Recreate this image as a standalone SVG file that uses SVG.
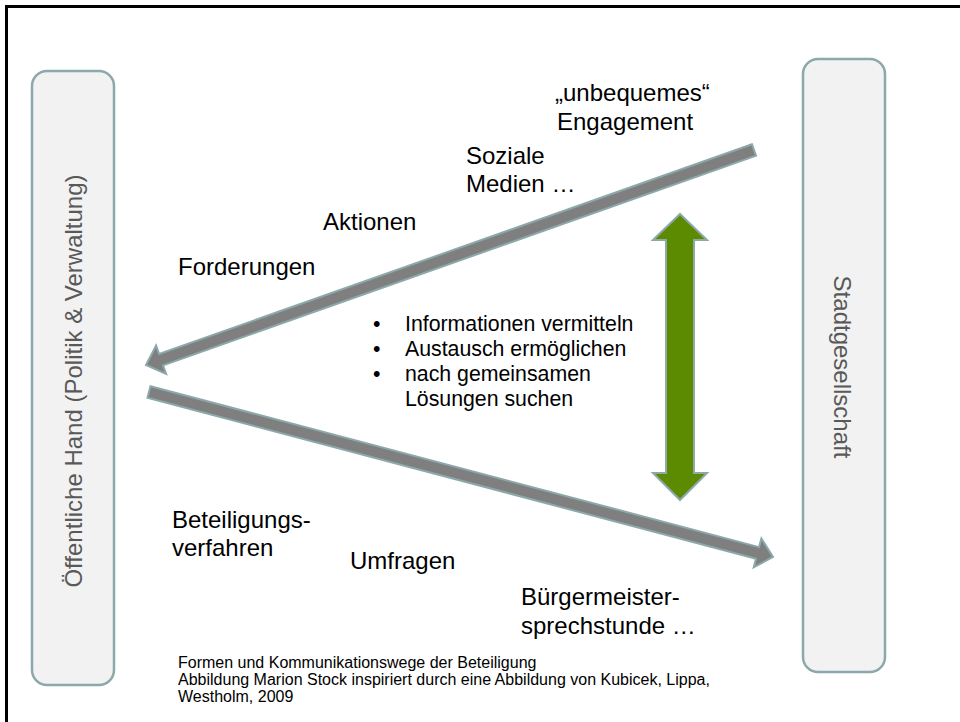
<svg xmlns="http://www.w3.org/2000/svg" width="960" height="722" viewBox="0 0 960 722">
<style>
.box{fill:#f2f2f2;stroke:#8ca8ab;stroke-width:2.5}
.boxlabel{font-family:"Liberation Sans",Arial,sans-serif;font-size:24px;fill:#595959;text-anchor:middle}
.lbl{font-family:"Liberation Sans",Arial,sans-serif;font-size:24px;fill:#000}
.bul{font-family:"Liberation Sans",Arial,sans-serif;font-size:21.3px;fill:#000}
.cap{font-family:"Liberation Sans",Arial,sans-serif;font-size:16px;fill:#000}
.garrow{fill:#7f7f7f;stroke:#8ca8ab;stroke-width:2;stroke-linejoin:miter}
.green{fill:#5c8a00;stroke:#8ca8ab;stroke-width:2}
</style>
<rect x="0" y="0" width="960" height="722" fill="#fff"/>
<path d="M6.5,722 V6.5 H960" fill="none" stroke="#000" stroke-width="3"/>
<g id="oeffentliche-hand">
<rect class="box" x="32" y="71" width="82" height="614" rx="15"/>
<text class="boxlabel" transform="translate(82,381) rotate(-90)">Öffentliche Hand (Politik &amp; Verwaltung)</text>
</g>
<g id="stadtgesellschaft">
<rect class="box" x="803" y="59" width="82" height="613" rx="15"/>
<text class="boxlabel" transform="translate(834,367) rotate(90)">Stadtgesellschaft</text>
</g>
<g id="connectors">
<polygon class="garrow" points="752,144.3 159.1,354 156.1,345.5 146,365 166.1,373.8 163.1,365.3 756,155.7"/>
<polygon class="garrow" points="150.5,386.2 759.1,547.1 761.4,538.4 773,557 753.7,567.4 756,558.7 147.5,397.8"/>
<polygon class="green" points="680,214 707,240 694,240 694,473 707,473 680,500 653,473 666,473 666,240 653,240"/>
</g>
<g id="labels-top">
<text class="lbl" x="555" y="101">„unbequemes“</text>
<text class="lbl" x="557" y="130">Engagement</text>
<text class="lbl" x="466" y="164">Soziale</text>
<text class="lbl" x="466" y="192">Medien …</text>
<text class="lbl" x="323" y="230">Aktionen</text>
<text class="lbl" x="178" y="275">Forderungen</text>
</g>
<g id="bullets">
<text class="bul" x="373" y="331">•</text>
<text class="bul" x="405" y="331">Informationen vermitteln</text>
<text class="bul" x="373" y="356">•</text>
<text class="bul" x="405" y="356">Austausch ermöglichen</text>
<text class="bul" x="373" y="381">•</text>
<text class="bul" x="405" y="381">nach gemeinsamen</text>
<text class="bul" x="405" y="406">Lösungen suchen</text>
</g>
<g id="labels-bottom">
<text class="lbl" x="172" y="528">Beteiligungs-</text>
<text class="lbl" x="172" y="556">verfahren</text>
<text class="lbl" x="350" y="569">Umfragen</text>
<text class="lbl" x="521" y="605">Bürgermeister-</text>
<text class="lbl" x="521" y="634">sprechstunde …</text>
</g>
<g id="caption">
<text class="cap" x="178" y="668">Formen und Kommunikationswege der Beteiligung</text>
<text class="cap" x="178" y="685">Abbildung Marion Stock inspiriert durch eine Abbildung von Kubicek, Lippa,</text>
<text class="cap" x="178" y="702">Westholm, 2009</text>
</g>
</svg>
